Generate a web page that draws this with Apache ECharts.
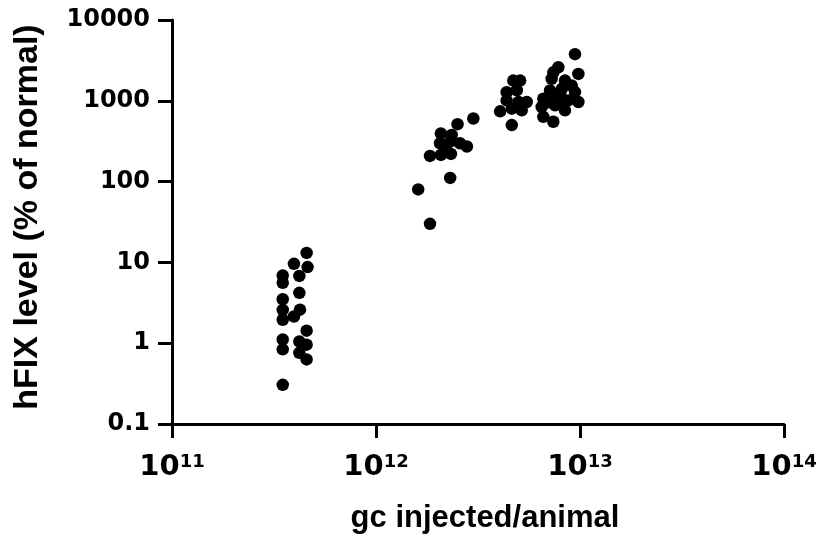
<!DOCTYPE html>
<html>
<head>
<meta charset="utf-8">
<script src="https://cdn.jsdelivr.net/npm/echarts@6/dist/echarts.min.js"></script>
<style>
  html, body { margin: 0; padding: 0; background: #fff; }
  #chart { width: 823px; height: 539px; }
</style>
</head>
<body>
<div id="chart"></div>
<script>
// ---- data ----
const xTickExponents = [11, 12, 13, 14];
const yTickLabels = ['0.1', '1', '10', '100', '1000', '10000'];
const xAxisTitle = 'gc injected/animal';
const yAxisTitle = 'hFIX level (% of normal)';

// dose group ~4e11 gc
const group1Dose = [4.57e11, 3.96e11, 4.62e11, 3.49e11, 4.21e11, 3.49e11, 4.21e11, 3.49e11, 3.49e11, 4.24e11,
                    3.96e11, 3.49e11, 4.57e11, 3.49e11, 4.21e11, 4.57e11, 3.49e11, 4.21e11, 4.57e11, 3.49e11];
const group1Level = [13.1, 9.6, 8.75, 6.9, 6.8, 5.6, 4.2, 3.5, 2.58, 2.6,
                     2.14, 1.95, 1.43, 1.11, 1.05, 0.96, 0.84, 0.76, 0.63, 0.305];

// dose group ~2e12 gc
const group2Dose = [3.0e12, 2.51e12, 2.08e12, 2.35e12, 2.06e12, 2.31e12, 2.58e12, 2.79e12, 1.84e12, 2.08e12,
                    2.33e12, 2.2e12, 2.31e12, 1.61e12, 1.84e12];
const group2Level = [604, 514, 395, 377, 298, 313, 298, 272, 208, 214,
                     220, 260, 111, 80, 30];

// dose group ~5e12 gc
const group3Dose = [4.71e12, 5.09e12, 4.37e12, 4.9e12, 4.37e12, 5.0e12, 5.48e12, 4.06e12, 4.63e12, 5.18e12, 4.63e12];
const group3Level = [1780, 1780, 1280, 1350, 1012, 966, 966, 741, 800, 762, 500];

// dose group ~8e12 gc
const group4Dose = [9.45e12, 9.82e12, 7.83e12, 7.4e12, 7.26e12, 8.44e12, 9.1e12, 7.13e12, 8.15e12, 9.45e12,
                    6.61e12, 7.55e12, 8.76e12, 9.82e12, 6.49e12, 7.55e12, 8.44e12, 6.61e12, 7.4e12, 8.0e12,
                    6.9e12, 8.2e12];
const group4Level = [3780, 2150, 2600, 2250, 1870, 1780, 1545, 1340, 1406, 1282,
                     1062, 1114, 1012, 966, 839, 879, 762, 633, 550, 1200,
                     950, 1000];

const groups = [
  [group1Dose, group1Level],
  [group2Dose, group2Level],
  [group3Dose, group3Level],
  [group4Dose, group4Level]
];

// ---- chart ----
const chart = echarts.init(document.getElementById('chart'), null, { renderer: 'canvas' });

const axisLineStyle = { color: '#000', width: 3 };

const option = {
  animation: false,
  backgroundColor: '#fff',
  grid: { left: 172, right: 39, top: 20, bottom: 111, containLabel: false },
  xAxis: {
    type: 'log',
    logBase: 10,
    min: 1e11,
    max: 1e14,
    interval: 1,
    name: xAxisTitle,
    nameLocation: 'middle',
    nameGap: 79,
    nameTextStyle: {
      fontFamily: '"Liberation Sans", Arial, sans-serif',
      fontWeight: 'bold',
      fontSize: 31,
      color: '#000',
      padding: [0, 0, 0, 14]
    },
    axisLine: { show: true, onZero: false, lineStyle: axisLineStyle },
    axisTick: { show: true, inside: false, length: 14, lineStyle: axisLineStyle },
    splitLine: { show: false },
    minorTick: { show: false },
    axisLabel: {
      margin: 29,
      formatter: function (v) {
        const e = Math.round(Math.log10(v));
        return '{b|10}{s|' + e + '}';
      },
      rich: {
        b: { fontFamily: '"DejaVu Sans", sans-serif', fontWeight: 'bold', fontSize: 29, lineHeight: 29, color: '#000' },
        s: { fontFamily: '"DejaVu Sans", sans-serif', fontWeight: 'bold', fontSize: 18, lineHeight: 18, color: '#000', verticalAlign: 'top' }
      }
    }
  },
  yAxis: {
    type: 'log',
    logBase: 10,
    min: 0.1,
    max: 10000,
    interval: 1,
    name: yAxisTitle,
    nameLocation: 'middle',
    nameGap: 127,
    nameTextStyle: {
      fontFamily: '"Liberation Sans", Arial, sans-serif',
      fontWeight: 'bold',
      fontSize: 34,
      color: '#000',
      padding: [0, 0, 0, 10]
    },
    axisLine: { show: true, onZero: false, lineStyle: axisLineStyle },
    axisTick: { show: true, inside: false, length: 14, lineStyle: axisLineStyle },
    splitLine: { show: false },
    minorTick: { show: false },
    axisLabel: {
      margin: 22,
      fontFamily: '"DejaVu Sans", sans-serif',
      fontWeight: 'bold',
      fontSize: 24,
      color: '#000',
      formatter: function (v) {
        const i = Math.round(Math.log10(v)) + 1;
        return yTickLabels[i] !== undefined ? yTickLabels[i] : String(v);
      }
    }
  },
  series: groups.map(function (g) {
    return {
      type: 'scatter',
      symbol: 'circle',
      symbolSize: 12.5,
      itemStyle: { color: '#000', opacity: 1 },
      data: g[0].map(function (x, i) { return [x, g[1][i]]; })
    };
  })
};

chart.setOption(option);
</script>
</body>
</html>
